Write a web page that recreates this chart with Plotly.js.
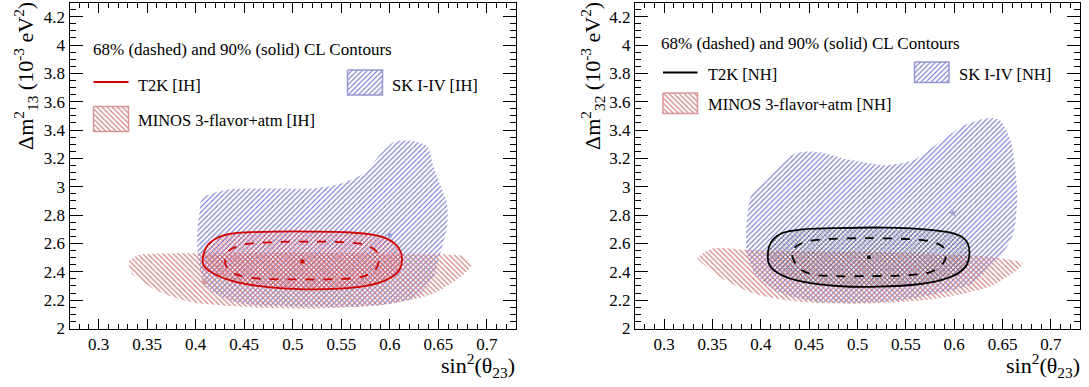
<!DOCTYPE html>
<html><head><meta charset="utf-8">
<script src="https://cdn.plot.ly/plotly-3.0.1.min.js"></script>
<style>html,body{margin:0;padding:0;background:#fff}#chart{width:1089px;height:387px}</style>
</head><body><div id="chart"></div>
<script>
// ---------------- DATA ----------------
const xTickVals = [0.3,0.35,0.4,0.45,0.5,0.55,0.6,0.65,0.7];
const xTickText = ['0.3','0.35','0.4','0.45','0.5','0.55','0.6','0.65','0.7'];
const yTickVals = [2,2.2,2.4,2.6,2.8,3,3.2,3.4,3.6,3.8,4,4.2];
const yTickText = ['2','2.2','2.4','2.6','2.8','3','3.2','3.4','3.6','3.8','4','4.2'];

// Left panel (IH)
const skIH_x = [0.4036,0.4018,0.4018,0.404,0.407,0.430,0.484,0.52,0.548,0.573,0.591,0.605,0.627,0.639,0.645,0.654,0.659,0.659,0.652,0.645,0.627,0.591,0.52,0.448,0.42,0.409];
const skIH_y = [2.435,2.55,2.70,2.82,2.918,2.976,2.988,2.988,3.02,3.094,3.235,3.318,3.318,3.28,3.14,2.976,2.88,2.72,2.53,2.365,2.224,2.165,2.153,2.176,2.247,2.318];
const minosIH_x = [0.330,0.341,0.377,0.42,0.5,0.58,0.645,0.677,0.684,0.677,0.645,0.591,0.52,0.448,0.395,0.359,0.334];
const minosIH_y = [2.47,2.518,2.53,2.53,2.535,2.53,2.525,2.506,2.447,2.388,2.247,2.165,2.14,2.153,2.188,2.27,2.388];
const t2k90IH_x = [0.4071,0.4085,0.4125,0.4200,0.4339,0.4554,0.484,0.5196,0.5554,0.5800,0.5950,0.6050,0.6110,0.6125,0.6105,0.6040,0.5930,0.5768,0.5482,0.5125,0.4768,0.4482,0.4268,0.4140,0.4085,0.4071];
const t2k90IH_y = [2.472,2.535,2.590,2.632,2.665,2.679,2.684,2.684,2.679,2.664,2.640,2.600,2.545,2.480,2.420,2.372,2.333,2.303,2.281,2.276,2.290,2.318,2.360,2.405,2.440,2.472];
const t2k68IH_x = [0.4304,0.4340,0.4482,0.4768,0.5196,0.5554,0.5750,0.5860,0.5886,0.5857,0.5732,0.5375,0.5018,0.4661,0.4460,0.4350,0.4304];
const t2k68IH_y = [2.46,2.545,2.590,2.608,2.613,2.608,2.590,2.545,2.483,2.420,2.368,2.347,2.347,2.351,2.372,2.410,2.46];
const bestIH = {t2k:[0.51,2.472], sk:[0.6,2.66], minos:[0.409,2.33]};

// Right panel (NH)
const skNH_x = [0.385,0.385,0.387,0.3894,0.4145,0.436,0.457,0.493,0.529,0.558,0.583,0.611,0.633,0.647,0.658,0.663,0.665,0.661,0.65,0.618,0.583,0.529,0.457,0.4145,0.393];
const skNH_y = [2.53,2.70,2.85,2.929,3.118,3.235,3.247,3.188,3.153,3.188,3.306,3.435,3.482,3.47,3.33,3.14,2.906,2.67,2.53,2.318,2.247,2.188,2.188,2.27,2.388];
const minosNH_x = [0.334,0.35,0.386,0.45,0.52,0.60,0.636,0.668,0.671,0.665,0.636,0.583,0.511,0.44,0.393,0.357,0.336];
const minosNH_y = [2.50,2.565,2.553,2.545,2.54,2.52,2.506,2.47,2.459,2.412,2.294,2.212,2.176,2.188,2.247,2.365,2.482];
const t2k90NH_x = [0.4073,0.4085,0.4130,0.4216,0.4431,0.4753,0.529,0.5755,0.5960,0.6080,0.6140,0.6156,0.6130,0.6040,0.5870,0.5648,0.5218,0.4789,0.4431,0.4230,0.4120,0.4080,0.4073];
const t2k90NH_y = [2.507,2.575,2.630,2.672,2.700,2.708,2.712,2.696,2.676,2.645,2.600,2.515,2.450,2.390,2.343,2.314,2.295,2.300,2.330,2.372,2.420,2.465,2.507];
const t2k68NH_x = [0.4324,0.4350,0.4440,0.4574,0.5111,0.5648,0.5800,0.5890,0.5916,0.5885,0.5760,0.5500,0.5111,0.4753,0.4520,0.4390,0.4324];
const t2k68NH_y = [2.519,2.570,2.606,2.625,2.637,2.625,2.606,2.570,2.519,2.460,2.400,2.375,2.370,2.370,2.384,2.430,2.519];
const bestNH = {t2k:[0.5118,2.502], sk:[0.5987,2.812]};

const header = '68% (dashed) and 90% (solid) CL Contours';
const labelsIH = {t2k:'T2K [IH]', sk:'SK I-IV [IH]', minos:'MINOS 3-flavor+atm [IH]'};
const labelsNH = {t2k:'T2K [NH]', sk:'SK I-IV [NH]', minos:'MINOS 3-flavor+atm [NH]'};

// ---------------- STYLE ----------------
const FONT = "'Liberation Serif', 'DejaVu Serif', serif";
const SKC = 'rgb(120,120,208)';
const MNC = 'rgb(208,120,120)';
const W = 1089, H = 387;
const patSK = {shape:'/', fgcolor:SKC, bgcolor:'rgba(0,0,0,0)', size:3.6, solidity:0.3};
const patMN = {shape:'\\', fgcolor:MNC, bgcolor:'rgba(0,0,0,0)', size:3.6, solidity:0.3};

function region(x, y, pat, xa, ya){
  return {x:x, y:y, xaxis:xa, yaxis:ya, type:'scatter', mode:'lines', fill:'toself',
    line:{width:0, shape:'spline', smoothing:0.8, color:'rgba(0,0,0,0)'},
    fillcolor:'rgba(0,0,0,0)', fillpattern:pat, hoverinfo:'skip', showlegend:false};
}
function contour(x, y, color, dash, xa, ya, fillpat){
  const t = {x:x, y:y, xaxis:xa, yaxis:ya, type:'scatter', mode:'lines',
    line:{width:1.8, color:color, dash:dash, shape:'spline', smoothing:1}, hoverinfo:'skip', showlegend:false};
  if (fillpat){ t.fill='toself'; t.fillcolor='rgba(0,0,0,0)'; t.fillpattern=fillpat; }
  return t;
}
function pt(p, sym, size, color, xa, ya){
  return {x:[p[0]], y:[p[1]], xaxis:xa, yaxis:ya, type:'scatter', mode:'markers',
    marker:{symbol:sym, size:size, color:color}, hoverinfo:'skip', showlegend:false};
}

const traces = [];
// Left panel
traces.push(region(skIH_x, skIH_y, patSK, 'x', 'y'));
traces.push(region(minosIH_x, minosIH_y, patMN, 'x', 'y'));
traces.push(contour(t2k90IH_x, t2k90IH_y, 'rgb(210,0,0)', 'solid', 'x', 'y',
  {shape:'x', fgcolor:'rgba(225,0,0,0.45)', bgcolor:'rgba(0,0,0,0)', size:3, solidity:0.45}));
traces.push(contour(t2k68IH_x, t2k68IH_y, 'rgb(210,0,0)', 'dash', 'x', 'y'));
traces.push(pt(bestIH.t2k, 'square', 4, 'rgb(210,0,0)', 'x', 'y'));
traces.push(pt(bestIH.sk, 'star', 6, 'rgb(160,160,215)', 'x', 'y'));
traces.push(pt(bestIH.minos, 'square', 5, 'rgb(215,160,160)', 'x', 'y'));
// Right panel
traces.push(region(skNH_x, skNH_y, patSK, 'x2', 'y2'));
traces.push(region(minosNH_x, minosNH_y, patMN, 'x2', 'y2'));
traces.push(contour(t2k90NH_x, t2k90NH_y, 'black', 'solid', 'x2', 'y2',
  {shape:'x', fgcolor:'rgba(0,0,0,0.35)', bgcolor:'rgba(0,0,0,0)', size:3, solidity:0.45}));
traces.push(contour(t2k68NH_x, t2k68NH_y, 'black', 'dash', 'x2', 'y2'));
traces.push(pt(bestNH.t2k, 'circle', 4, 'black', 'x2', 'y2'));
traces.push(pt(bestNH.sk, 'star', 6, 'rgb(160,160,215)', 'x2', 'y2'));

// Legend swatches on a full-canvas pixel overlay axis
function box(x0, y0, x1, y1, pat, lc){
  return {x:[x0,x1,x1,x0,x0], y:[y0,y0,y1,y1,y0], xaxis:'x3', yaxis:'y3', type:'scatter', mode:'lines',
    fill:'toself', fillcolor:'rgba(0,0,0,0)', fillpattern:pat, line:{width:1.5, color:lc}, hoverinfo:'skip', showlegend:false};
}
function seg(x0, x1, y, c){
  return {x:[x0,x1], y:[y,y], xaxis:'x3', yaxis:'y3', type:'scatter', mode:'lines',
    line:{width:1.8, color:c}, hoverinfo:'skip', showlegend:false};
}
const legL = {hx:90.5, hy:49, lx0:93.5, lx1:128.5, ly:82, tx:136, ty:85, skx0:347.5, skx1:382.5, sky0:70, sky1:95, skt:390, mny0:106.5, mny1:131.5, mnty:120};
const legR = {hx:659, hy:43.5, lx0:663, lx1:697.5, ly:72.5, tx:705.5, ty:74.5, skx0:914.5, skx1:949, sky0:62, sky1:82.5, skt:957, mny0:93, mny1:113.5, mnty:104};
const SKL = 'rgb(150,150,210)', MNL = 'rgb(215,150,150)';
traces.push(seg(legL.lx0, legL.lx1, legL.ly, 'rgb(210,0,0)'));
traces.push(box(legL.skx0, legL.sky0, legL.skx1, legL.sky1, patSK, SKL));
traces.push(box(legL.lx0, legL.mny0, legL.lx1, legL.mny1, patMN, MNL));
traces.push(seg(legR.lx0, legR.lx1, legR.ly, 'black'));
traces.push(box(legR.skx0, legR.sky0, legR.skx1, legR.sky1, patSK, SKL));
traces.push(box(legR.lx0, legR.mny0, legR.lx1, legR.mny1, patMN, MNL));

function txt(x, y, text, size, xanchor, extra){
  return Object.assign({x:x, y:y, xref:'x3', yref:'y3', text:text, showarrow:false,
    xanchor:xanchor, yanchor:'middle', font:{family:FONT, size:size, color:'black'}}, extra||{});
}
const annotations = [
  txt(legL.hx, legL.hy, header, 17, 'left'),
  txt(legL.tx, legL.ty, labelsIH.t2k, 16.5, 'left'),
  txt(legL.skt, legL.ty, labelsIH.sk, 16.5, 'left'),
  txt(legL.tx, legL.mnty, labelsIH.minos, 16.5, 'left'),
  txt(legR.hx, legR.hy, header, 17, 'left'),
  txt(legR.tx, legR.ty, labelsNH.t2k, 16.5, 'left'),
  txt(legR.skt, legR.ty, labelsNH.sk, 16.5, 'left'),
  txt(legR.tx, legR.mnty, labelsNH.minos, 16.5, 'left'),
  // axis titles, ROOT-style right/top aligned
  txt(517, 365, 'sin<sup>2</sup>(θ<sub>23</sub>)', 22, 'right'),
  txt(1082, 365, 'sin<sup>2</sup>(θ<sub>23</sub>)', 22, 'right'),
  txt(25, 0, 'Δm<sup>2</sup><sub>13</sub> (10<sup>-3</sup> eV<sup>2</sup>)', 22, 'center', {textangle:-90, yanchor:'top'}),
  txt(592, 0, 'Δm<sup>2</sup><sub>32</sub> (10<sup>-3</sup> eV<sup>2</sup>)', 22, 'center', {textangle:-90, yanchor:'top'})
];

function xax(domain){
  return {domain:domain, range:[0.27,0.73], tickmode:'array', tickvals:xTickVals, ticktext:xTickText,
    ticks:'inside', ticklen:10, tickwidth:1, tickcolor:'black', showline:true, linecolor:'black', linewidth:1,
    mirror:'allticks', showgrid:false, zeroline:false, tickfont:{family:FONT, size:17, color:'black'},
    minor:{tickmode:'linear', tick0:0, dtick:0.01, ticks:'inside', ticklen:5, tickcolor:'black', showgrid:false},
    fixedrange:true};
}
function yax(domain, anchor){
  return {domain:domain, anchor:anchor, range:[2,4.3], tickmode:'array', tickvals:yTickVals, ticktext:yTickText,
    ticks:'inside', ticklen:13, tickwidth:1, tickcolor:'black', showline:true, linecolor:'black', linewidth:1,
    mirror:'allticks', showgrid:false, zeroline:false, tickfont:{family:FONT, size:17, color:'black'},
    minor:{tickmode:'linear', tick0:0, dtick:0.05, ticks:'inside', ticklen:6, tickcolor:'black', showgrid:false},
    fixedrange:true};
}
const yDom = [(H-328.5)/H, (H-2.5)/H];
const layout = {
  width:W, height:H, margin:{l:0, r:0, t:0, b:0}, paper_bgcolor:'white', plot_bgcolor:'rgba(0,0,0,0)',
  showlegend:false, font:{family:FONT, color:'black'},
  xaxis: Object.assign(xax([69.5/W, 516/W]), {anchor:'y'}),
  yaxis: yax(yDom, 'x'),
  xaxis2: Object.assign(xax([635/W, 1080/W]), {anchor:'y2'}),
  yaxis2: yax(yDom, 'x2'),
  xaxis3: {domain:[0,1], range:[0,W], visible:false, anchor:'y3', fixedrange:true},
  yaxis3: {domain:[0,1], range:[H,0], visible:false, anchor:'x3', fixedrange:true},
  annotations: annotations
};
Plotly.newPlot('chart', traces, layout, {staticPlot:true, displayModeBar:false});
</script></body></html>
